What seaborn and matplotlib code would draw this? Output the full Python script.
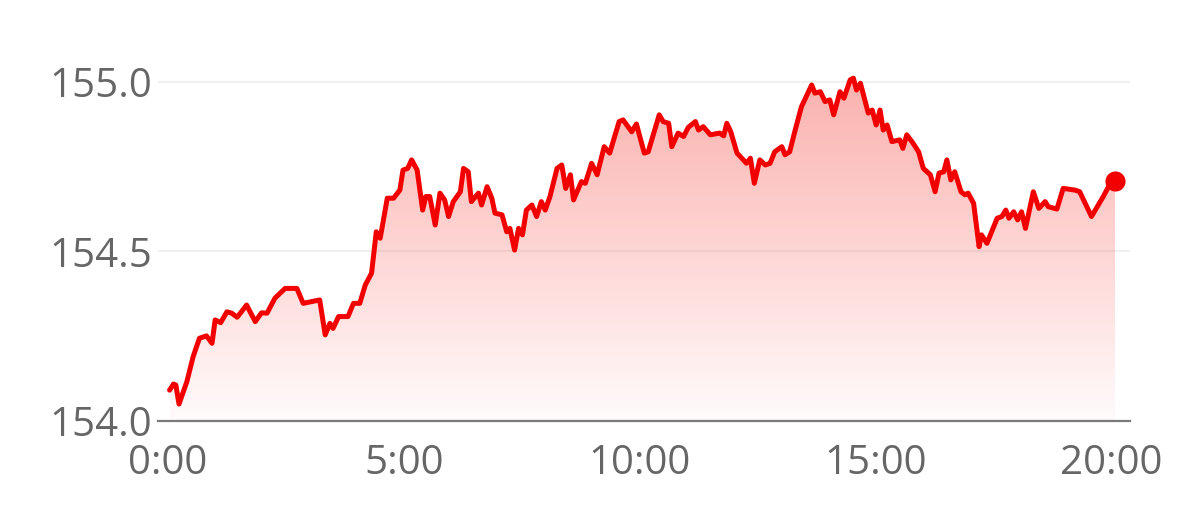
import numpy as np
import pandas as pd
import matplotlib
matplotlib.use("Agg")
import matplotlib.pyplot as plt
import seaborn as sns
from matplotlib.colors import LinearSegmentedColormap
from matplotlib.patches import Polygon

# intraday price, minutes since 0:00
minutes = [2, 7, 10, 14, 24, 32, 40, 49, 56, 60, 67, 75, 81, 88, 100, 111, 119, 126, 136, 149,
           164, 172, 193, 200, 206, 210, 217, 229, 236, 244, 251, 259, 265, 270, 279, 287, 295, 299,
           305, 310, 317, 324, 328, 333, 340, 346, 352, 357, 363, 372, 376, 382, 386, 395, 399, 406,
           412, 416, 425, 431, 435, 441, 446, 451, 456, 463, 469, 475, 480, 486, 495, 501, 506, 512,
           516, 526, 531, 539, 546, 555, 562, 574, 579, 590, 596, 606, 611, 625, 630, 637, 641, 649,
           656, 662, 671, 675, 681, 690, 702, 707, 711, 716, 724, 728, 736, 741, 746, 753, 760, 766,
           772, 781, 785, 791, 798, 806, 819, 823, 830, 836, 842, 847, 855, 860, 868, 872, 876, 881,
           891, 896, 901, 906, 910, 915, 921, 931, 935, 940, 948, 955, 961, 970, 976, 981, 987, 991,
           996, 1001, 1009, 1014, 1018, 1025, 1032, 1035, 1042, 1055, 1061, 1066, 1070, 1076, 1081,
           1086, 1091, 1101, 1108, 1116, 1120, 1131, 1139, 1154, 1160, 1175, 1190, 1199, 1205]
prices = [154.091, 154.109, 154.106, 154.050, 154.116, 154.190, 154.244, 154.251, 154.229, 154.298,
          154.290, 154.322, 154.318, 154.306, 154.342, 154.293, 154.319, 154.318, 154.362, 154.391,
          154.391, 154.347, 154.357, 154.254, 154.288, 154.273, 154.308, 154.308, 154.347, 154.347,
          154.401, 154.436, 154.558, 154.539, 154.657, 154.657, 154.681, 154.740, 154.745, 154.770,
          154.740, 154.622, 154.662, 154.662, 154.578, 154.672, 154.652, 154.603, 154.647, 154.676,
          154.745, 154.735, 154.647, 154.672, 154.637, 154.691, 154.657, 154.613, 154.608, 154.558,
          154.568, 154.504, 154.568, 154.549, 154.622, 154.637, 154.603, 154.647, 154.622, 154.662,
          154.745, 154.755, 154.686, 154.726, 154.652, 154.706, 154.701, 154.760, 154.726, 154.809,
          154.790, 154.883, 154.888, 154.853, 154.876, 154.790, 154.794, 154.903, 154.883, 154.878,
          154.809, 154.849, 154.839, 154.866, 154.883, 154.858, 154.868, 154.844, 154.849, 154.841,
          154.878, 154.853, 154.790, 154.780, 154.760, 154.775, 154.701, 154.770, 154.755, 154.760,
          154.794, 154.809, 154.785, 154.794, 154.858, 154.927, 154.991, 154.967, 154.971, 154.942,
          154.947, 154.903, 154.971, 154.952, 155.006, 155.011, 154.976, 154.996, 154.908, 154.917,
          154.873, 154.917, 154.858, 154.873, 154.824, 154.829, 154.804, 154.844, 154.819, 154.794,
          154.745, 154.726, 154.676, 154.731, 154.735, 154.770, 154.711, 154.735, 154.676, 154.667,
          154.672, 154.642, 154.514, 154.549, 154.524, 154.598, 154.603, 154.622, 154.598, 154.617,
          154.593, 154.617, 154.568, 154.676, 154.627, 154.647, 154.632, 154.625, 154.686, 154.681,
          154.676, 154.603, 154.662, 154.701, 154.709]

y_ticks = [154.0, 154.5, 155.0]
x_ticks = [0, 5, 10, 15, 20]
x_ticklabels = ["0:00", "5:00", "10:00", "15:00", "20:00"]

df = pd.DataFrame({"hour": np.array(minutes) / 60.0, "price": prices})

sns.set_style("white")
plt.rcParams["font.family"] = ["Open Sans", "DejaVu Sans"]

RED = "#f20000"
GREY = "#7a7a7a"
y_base = 154.0

fig = plt.figure(figsize=(11.79, 5.28), dpi=100)
ax = fig.add_axes([158 / 1179, 107 / 528, 972 / 1179, 373 / 528])
ax.set_xlim(-0.212, 20.40)
ax.set_ylim(y_base, 155.1)

# gradient fill under the line
cmap = LinearSegmentedColormap.from_list(
    "fade", [(1, 0.22, 0.2, 0.02), (0.95, 0.25, 0.22, 0.42)])
grad = np.linspace(0, 1, 256).reshape(-1, 1)
img = ax.imshow(grad, cmap=cmap, aspect="auto", origin="lower",
                extent=[df.hour.iloc[0], df.hour.iloc[-1], y_base, 155.05], zorder=1)
verts = np.vstack([[df.hour.iloc[0], y_base], df[["hour", "price"]].to_numpy(),
                   [df.hour.iloc[-1], y_base]])
poly = Polygon(verts, closed=True, facecolor="none", edgecolor="none")
ax.add_patch(poly)
img.set_clip_path(poly)

sns.lineplot(data=df, x="hour", y="price", color=RED, linewidth=3.6, ax=ax, zorder=3)
ax.scatter(df.hour.iloc[-1], df.price.iloc[-1], s=210, color=RED, zorder=4, linewidths=0)

ax.set_xlim(-0.212, 20.40)
ax.set_ylim(y_base, 155.1)

for s in ["top", "right", "left"]:
    ax.spines[s].set_visible(False)
ax.spines["bottom"].set_color(GREY)
ax.spines["bottom"].set_linewidth(1.6)
ax.spines["bottom"].set_zorder(5)

ax.set_yticks(y_ticks)
ax.set_yticklabels([f"{v:.1f}" for v in y_ticks])
ax.set_xticks(x_ticks)
ax.set_xticklabels(x_ticklabels)
ax.yaxis.grid(True, color="#f0f0f0", linewidth=1.5)
ax.set_axisbelow(True)

ax.tick_params(axis="y", length=0, pad=4, labelsize=29, labelcolor="#666666")
ax.tick_params(axis="x", length=11.5, width=1.5, color=GREY, pad=5,
               labelsize=29, labelcolor="#666666", direction="out")
ax.set_xlabel("")
ax.set_ylabel("")

fig.savefig("out.png", dpi=100)
